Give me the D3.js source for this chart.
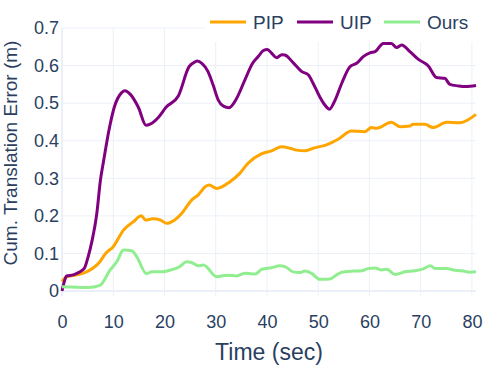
<!DOCTYPE html>
<html>
<head>
<meta charset="utf-8">
<script src="https://cdn.jsdelivr.net/npm/d3@7"></script>
<style>
    body { margin: 0; background: #fff; }
    text { font-family: "Liberation Sans", Arial, sans-serif; fill: #2a3f5f; }
</style>
</head>
<body>
<div id="chart"></div>
<script>

// data: [time (sec), cumulative translation error (m)]
let pipData = [[0,0.025],[0.9,0.038],[2.5,0.042],[4.8,0.051],[7.4,0.078],[8.5,0.1],[10.0,0.118],[12.0,0.162],
    [13.9,0.184],[15.5,0.2],[16.3,0.189],[17.7,0.192],[19.2,0.189],[20.4,0.18],[22.0,0.189],[23.4,0.207],
    [25.3,0.242],[26.6,0.256],[28.0,0.278],[28.7,0.282],[30.2,0.273],[32.8,0.291],[34.7,0.313],[36.3,0.34],
    [38.9,0.365],[40.9,0.373],[42.9,0.384],[44.5,0.38],[45.8,0.375],[47.4,0.373],[49.0,0.38],[51.6,0.389],
    [53.9,0.404],[56.5,0.426],[59.1,0.424],[60.4,0.435],[61.4,0.433],[64.3,0.449],[66.0,0.437],[67.9,0.439],
    [68.5,0.444],[70.8,0.444],[72.4,0.435],[75.1,0.449],[77.7,0.448],[80.8,0.47]];

let uipData = [[0,0.0],[0.45,0.025],[0.9,0.04],[2.2,0.043],[3.2,0.049],[4.35,0.06],[5.1,0.091],[5.9,0.136],
    [6.8,0.207],[7.5,0.295],[8.1,0.345],[9.3,0.437],[10.2,0.489],[11.65,0.528],[12.3,0.533],[13.3,0.524],
    [14.9,0.489],[16.4,0.441],[17.2,0.444],[18.8,0.462],[20.3,0.489],[22.7,0.519],[24.8,0.597],[25.95,0.61],
    [26.4,0.612],[27.3,0.606],[28.5,0.584],[29.5,0.548],[30.5,0.508],[31.5,0.492],[32.6,0.488],[34.1,0.513],
    [35.7,0.562],[37.2,0.606],[38.3,0.624],[39.3,0.64],[40.1,0.643],[40.9,0.633],[41.9,0.621],[42.9,0.629],
    [43.5,0.628],[45.1,0.608],[46.8,0.584],[48.1,0.575],[49.0,0.553],[50.3,0.517],[51.3,0.495],[52.2,0.484],
    [53.3,0.508],[54.6,0.553],[56.2,0.597],[57.5,0.606],[58.8,0.624],[60.1,0.634],[61.1,0.637],[62.7,0.659],
    [64.3,0.659],[65.3,0.648],[66.3,0.655],[67.9,0.637],[69.5,0.617],[71.5,0.599],[73.1,0.568],[74.7,0.566],
    [75.7,0.55],[77.3,0.546],[78.8,0.544],[80.8,0.547]];

let oursData = [[0,0.011],[5.1,0.009],[7.4,0.015],[9.4,0.056],[10.7,0.078],[12.0,0.109],[13.6,0.107],
    [14.6,0.091],[16.5,0.046],[17.5,0.051],[19.5,0.051],[20.7,0.054],[23.0,0.065],[24.3,0.078],[25.3,0.076],
    [26.6,0.067],[27.6,0.069],[30.2,0.038],[32.1,0.042],[34.1,0.04],[34.7,0.043],[36.0,0.047],[37.7,0.045],
    [39.0,0.058],[40.9,0.062],[42.5,0.067],[43.5,0.065],[45.1,0.051],[46.4,0.049],[47.4,0.053],[48.7,0.047],
    [50.3,0.031],[52.3,0.032],[53.6,0.043],[54.6,0.05],[56.8,0.053],[58.5,0.054],[59.8,0.06],[61.1,0.061],
    [62.4,0.056],[63.4,0.058],[65.0,0.044],[66.9,0.051],[68.9,0.054],[70.5,0.059],[71.9,0.067],[72.8,0.06],
    [75.1,0.06],[76.4,0.056],[78.0,0.054],[79.6,0.05],[80.8,0.051]];

let seriesNames = ["PIP", "UIP", "Ours"];
let seriesColors = ["orange", "purple", "lightgreen"];
let xTicks = [0, 10, 20, 30, 40, 50, 60, 70, 80];
let yTicks = [0, 0.1, 0.2, 0.3, 0.4, 0.5, 0.6, 0.7];

let allSeries = [pipData, uipData, oursData];

// layout
let width = 488, height = 366;
let plot = {left: 62, right: 476, top: 28, bottom: 296};

let svg = d3.select("#chart").append("svg")
    .attr("width", width)
    .attr("height", height);

let x = d3.scaleLinear().domain([0, 80.8]).range([plot.left, plot.right]);
let y = d3.scaleLinear().domain([-0.0133, 0.7]).range([plot.bottom, plot.top]);

// grid
let grid = svg.append("g").attr("class", "grid");
grid.selectAll(".vgrid").data(xTicks).enter().append("line")
    .attr("x1", d => x(d)).attr("x2", d => x(d))
    .attr("y1", plot.top).attr("y2", plot.bottom)
    .attr("stroke", "#EBF0F8")
    .attr("stroke-width", d => d === 0 ? 2 : 1);
grid.selectAll(".hgrid").data(yTicks).enter().append("line")
    .attr("x1", plot.left).attr("x2", plot.right)
    .attr("y1", d => y(d)).attr("y2", d => y(d))
    .attr("stroke", "#EBF0F8")
    .attr("stroke-width", d => d === 0 ? 2 : 1);

// axes
let xAxis = svg.append("g")
    .attr("transform", `translate(0,${plot.bottom})`)
    .call(d3.axisBottom(x).tickValues(xTicks).tickSize(0).tickPadding(19));
let yAxis = svg.append("g")
    .attr("transform", `translate(${plot.left},0)`)
    .call(d3.axisLeft(y).tickValues(yTicks).tickSize(0).tickPadding(3)
        .tickFormat(d => d === 0 ? "0" : d.toFixed(1)));

[xAxis, yAxis].forEach(a => {
    a.select(".domain").remove();
    a.selectAll("text")
        .attr("font-family", null)
        .style("font-size", "18px")
        .attr("fill", "#2a3f5f");
});

// lines
let line = d3.line()
    .x(d => x(d[0]))
    .y(d => y(d[1]))
    .curve(d3.curveMonotoneX);

svg.append("g").selectAll("path")
    .data(allSeries).enter().append("path")
    .attr("d", line)
    .attr("fill", "none")
    .attr("stroke", (d, i) => seriesColors[i])
    .attr("stroke-width", 3)
    .attr("stroke-linejoin", "round");

// legend (white box over the top of the plot)
let legend = svg.append("g");
legend.append("rect")
    .attr("x", 205).attr("y", 0)
    .attr("width", width - 205).attr("height", 42)
    .attr("fill", "#fff");

let legendX = [210, 297, 384];
seriesNames.forEach((name, i) => {
    legend.append("line")
        .attr("x1", legendX[i]).attr("x2", legendX[i] + 36)
        .attr("y1", 22).attr("y2", 22)
        .attr("stroke", seriesColors[i])
        .attr("stroke-width", 3);
    legend.append("text")
        .attr("x", legendX[i] + 43).attr("y", 29)
        .style("font-size", "19px")
        .text(name);
});

// axis titles
svg.append("text")
    .attr("x", (plot.left + plot.right) / 2)
    .attr("y", 360)
    .attr("text-anchor", "middle")
    .style("font-size", "23px")
    .text("Time (sec)");

svg.append("text")
    .attr("transform", "translate(17,153) rotate(-90)")
    .attr("text-anchor", "middle")
    .style("font-size", "19px")
    .text("Cum. Translation Error (m)");

</script>
</body>
</html>
